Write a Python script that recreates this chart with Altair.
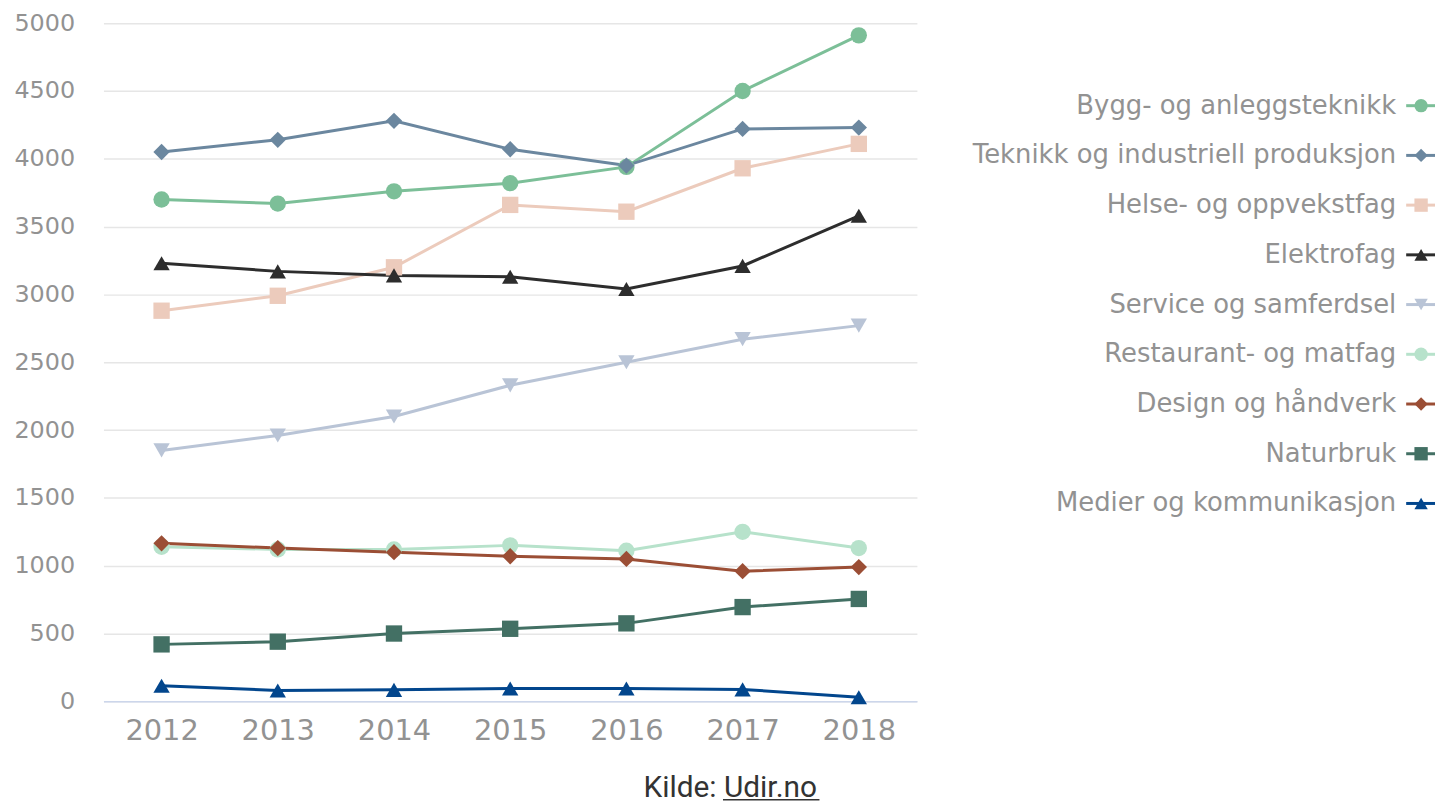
import altair as alt
import pandas as pd

years = ["2012", "2013", "2014", "2015", "2016", "2017", "2018"]
categories = [
    "Bygg- og anleggsteknikk",
    "Teknikk og industriell produksjon",
    "Helse- og oppvekstfag",
    "Elektrofag",
    "Service og samferdsel",
    "Restaurant- og matfag",
    "Design og håndverk",
    "Naturbruk",
    "Medier og kommunikasjon",
]
bygg = [3700, 3670, 3760, 3820, 3940, 4500, 4910]
teknikk = [4050, 4140, 4280, 4070, 3950, 4220, 4230]
helse = [2880, 2990, 3200, 3660, 3610, 3930, 4110]
elektro = [3230, 3170, 3140, 3130, 3040, 3210, 3580]
service = [1850, 1960, 2100, 2330, 2500, 2670, 2770]
restaurant = [1140, 1120, 1120, 1150, 1110, 1250, 1130]
design = [1165, 1130, 1100, 1070, 1050, 960, 990]
naturbruk = [420, 440, 500, 535, 575, 695, 755]
medier = [115, 80, 85, 95, 95, 88, 30]
y_ticks = [0, 500, 1000, 1500, 2000, 2500, 3000, 3500, 4000, 4500, 5000]

colors = ["#7cbf98", "#6b879f", "#eccbbc", "#2d2d2d", "#b9c4d6",
          "#b7e2cb", "#9b4e35", "#437064", "#02468d"]
shapes = ["circle", "diamond", "square", "triangle-up", "triangle-down",
          "circle", "diamond", "square", "triangle-up"]

series = [bygg, teknikk, helse, elektro, service, restaurant, design, naturbruk, medier]
rows = []
for i, (cat, vals) in enumerate(zip(categories, series)):
    for yr, v in zip(years, vals):
        rows.append({"cat": cat, "year": yr, "value": v, "order": i})
df = pd.DataFrame(rows)
leg_df = pd.DataFrame({"cat": categories, "idx": list(range(len(categories)))})

FONT = "DejaVu Sans"
GRAY = "#929292"

color_scale = alt.Scale(domain=categories, range=colors)
shape_scale = alt.Scale(domain=categories, range=shapes)

x_enc = alt.X("year:O", scale=alt.Scale(type="point", padding=0.5),
              axis=alt.Axis(title=None, labelAngle=0, ticks=False, grid=False,
                            domainColor="#ccd6eb", domainWidth=1.5,
                            labelFont=FONT, labelFontSize=29, labelColor=GRAY,
                            labelPadding=15))
y_enc = alt.Y("value:Q", scale=alt.Scale(domain=[0, 5000], nice=False),
              axis=alt.Axis(title=None, values=y_ticks, format="d", ticks=False,
                            domain=False, grid=True, gridColor="#e6e6e6", gridWidth=1.5,
                            labelFont=FONT, labelFontSize=24, labelColor=GRAY,
                            labelPadding=29))

lines = alt.Chart(df).mark_line(strokeWidth=3).encode(
    x=x_enc, y=y_enc,
    color=alt.Color("cat:N", scale=color_scale, legend=None),
    order=alt.Order("order:Q"),
    detail="cat:N",
)
points = alt.Chart(df).mark_point(filled=True, size=270, opacity=1).encode(
    x=alt.X("year:O"), y=alt.Y("value:Q"),
    color=alt.Color("cat:N", scale=color_scale, legend=None),
    shape=alt.Shape("cat:N", scale=shape_scale, legend=None),
    order=alt.Order("order:Q"),
)
main = alt.layer(lines, points)

leg_y = alt.Y("idx:Q", scale=alt.Scale(domain=[-1.66, 11.98], reverse=True, nice=False, zero=False),
              axis=None)
leg_rule = alt.Chart(leg_df).mark_rule(strokeWidth=3).encode(
    x=alt.value(1310), x2=alt.value(1339), y=leg_y,
    color=alt.Color("cat:N", scale=color_scale, legend=None))
leg_pt = alt.Chart(leg_df).mark_point(filled=True, size=180, opacity=1).encode(
    x=alt.value(1325), y=leg_y,
    color=alt.Color("cat:N", scale=color_scale, legend=None),
    shape=alt.Shape("cat:N", scale=shape_scale, legend=None))
leg_txt = alt.Chart(leg_df).mark_text(align="right", baseline="middle", font=FONT,
                                      fontSize=26, color=GRAY).encode(
    x=alt.value(1300), y=leg_y, text="cat:N")
legend = alt.layer(leg_rule, leg_pt, leg_txt)

cap_df = pd.DataFrame({"t": ["Kilde: Udir.no"]})
caption = alt.Chart(cap_df).mark_text(align="left", baseline="alphabetic", font="Roboto",
                                      fontSize=30, color="#333333").encode(
    x=alt.value(543), y=alt.value(778), text="t:N")
underline = alt.Chart(cap_df).mark_rule(color="#333333", strokeWidth=1.5).encode(
    x=alt.value(623), x2=alt.value(720), y=alt.value(781))

chart = alt.layer(main, legend, caption, underline).resolve_scale(
    y="independent"
).properties(
    width=818, height=682,
    padding={"left": 5, "top": 1, "right": 0, "bottom": 0},
).configure_view(stroke=None)

chart.save("out.html", embed_options={"renderer": "svg", "actions": False})
